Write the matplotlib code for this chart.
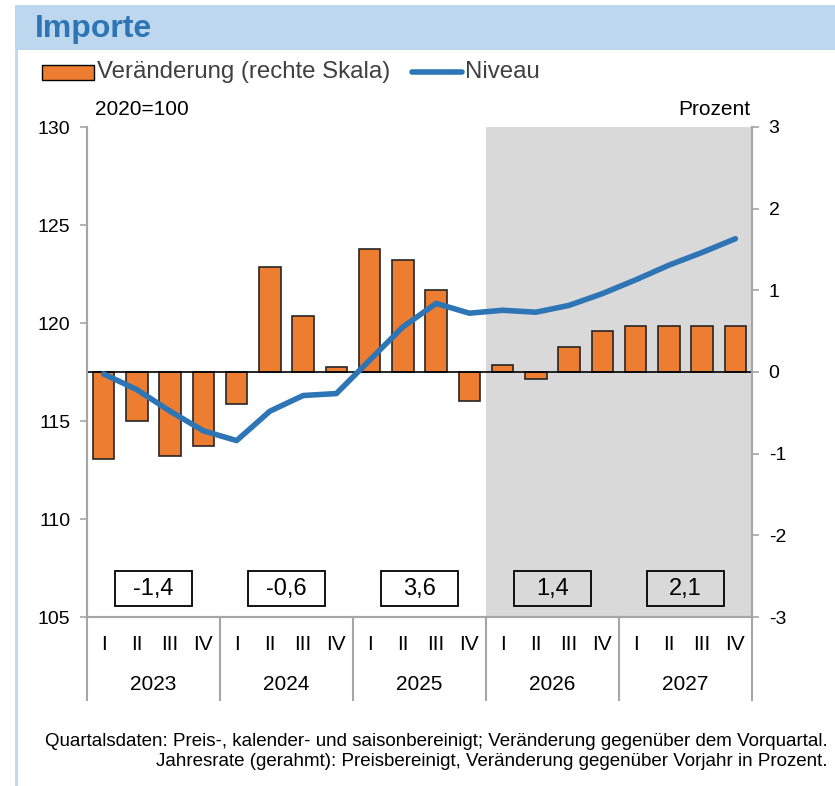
import matplotlib
matplotlib.use("Agg")
import matplotlib.pyplot as plt
from matplotlib.patches import Rectangle
from matplotlib.lines import Line2D
import numpy as np

plt.rcParams['font.family'] = ['Liberation Sans', 'DejaVu Sans']

# Data
years = ['2023', '2024', '2025', '2026', '2027']
quarters = ['I', 'II', 'III', 'IV']
change = [-1.07, -0.60, -1.03, -0.91,
          -0.39, 1.28, 0.68, 0.06,
          1.51, 1.37, 1.00, -0.36,
          0.08, -0.08, 0.30, 0.50,
          0.56, 0.56, 0.56, 0.56]
level = [117.4, 116.6, 115.5, 114.5,
         114.0, 115.5, 116.3, 116.4,
         118.1, 119.8, 121.0, 120.5,
         120.65, 120.55, 120.9, 121.5,
         122.2, 122.95, 123.6, 124.3]
annual = ['-1,4', '-0,6', '3,6', '1,4', '2,1']
forecast_start = 12  # first forecast quarter (2026 I)

W, H = 835, 786
fig = plt.figure(figsize=(W / 100, H / 100), dpi=100)

def fx(px):
    return px / W

def fy(py):
    return 1 - py / H

# title bar and panel border
blue_bg = '#BDD7EE'
fig.patches.append(Rectangle((fx(15), fy(50)), fx(820), 45 / H, transform=fig.transFigure,
                             facecolor=blue_bg, edgecolor='none'))
fig.lines.append(Line2D([fx(16), fx(16)], [fy(50), 0], transform=fig.transFigure,
                        color=blue_bg, lw=2))
fig.text(fx(35), fy(29), 'Importe', fontsize=23, fontweight='bold', color='#2E75B6',
         va='center', ha='left')

# axes
ax = fig.add_axes([fx(87), fy(617), fx(665), 490 / H])
ax2 = ax.twinx()
ax.set_zorder(ax2.get_zorder() + 1)
ax.patch.set_visible(False)

x = np.arange(len(change))
n = len(change)

ax2.axvspan(forecast_start - 0.5, n - 0.5, color='#D9D9D9', lw=0, zorder=0)
ax2.bar(x, change, width=0.65, color='#ED7D31', edgecolor='#262626', lw=1.2, zorder=2)
ax2.axhline(0, color='black', lw=1.2, zorder=3)
ax.plot(x, level, color='#2E75B6', lw=4, solid_capstyle='round', zorder=5)

ax.set_xlim(-0.5, n - 0.5)
ax.set_ylim(105, 130)
ax.set_yticks([105, 110, 115, 120, 125, 130])
ax2.set_ylim(-3, 3)
ax2.set_yticks([-3, -2, -1, 0, 1, 2, 3])
ax2.set_yticklabels(['-3', '-2', '-1', '0', '1', '2', '3'])
ax.set_xticks([])

spine_c = '#A6A6A6'
for a in (ax, ax2):
    a.spines['top'].set_visible(False)
    for s in ('left', 'right', 'bottom'):
        a.spines[s].set_color(spine_c)
        a.spines[s].set_linewidth(1.5)
    a.tick_params(axis='y', direction='out', length=5, width=1.2, color=spine_c,
                  labelsize=14, labelcolor='black', pad=7)

# annual rate boxes
for i, (yr, val) in enumerate(zip(years, annual)):
    c = i * 4 + 1.5
    ax.add_patch(Rectangle((c - 1.15, 0.023), 2.3, 0.071, transform=ax.get_xaxis_transform(),
                           facecolor='white' if i * 4 < forecast_start else 'none',
                           edgecolor='black', lw=1.3, zorder=6))
    ax.text(c, 0.058, val, transform=ax.get_xaxis_transform(), ha='center', va='center',
            fontsize=17, zorder=7)
    # year label
    ax.text(c, -0.137, yr, transform=ax.get_xaxis_transform(), ha='center', va='center',
            fontsize=15)
    for j, q in enumerate(quarters):
        ax.text(i * 4 + j, -0.057, q, transform=ax.get_xaxis_transform(), ha='center',
                va='center', fontsize=15)

for b in np.arange(-0.5, n, 4):
    ax.plot([b, b], [0, -0.17], transform=ax.get_xaxis_transform(), color=spine_c,
            lw=1.5, clip_on=False)

ax.text(0.012, 1.035, '2020=100', transform=ax.transAxes, fontsize=15, va='center')
ax.text(0.997, 1.035, 'Prozent', transform=ax.transAxes, fontsize=15, va='center', ha='right')

# legend
fig.patches.append(Rectangle((fx(42), fy(80)), fx(52), 15 / H, transform=fig.transFigure,
                             facecolor='#ED7D31', edgecolor='black', lw=1))
fig.text(fx(97), fy(72), 'Veränderung (rechte Skala)', fontsize=17.3, color='#404040', va='center')
fig.lines.append(Line2D([fx(412), fx(462)], [fy(72), fy(72)], transform=fig.transFigure,
                        color='#2E75B6', lw=4, solid_capstyle='round'))
fig.text(fx(465), fy(72), 'Niveau', fontsize=17.3, color='#404040', va='center')

# footnote
fig.text(fx(828), fy(742), 'Quartalsdaten: Preis-, kalender- und saisonbereinigt; '
         'Veränderung gegenüber dem Vorquartal.', fontsize=13.5, ha='right', va='center')
fig.text(fx(828), fy(762), 'Jahresrate (gerahmt): Preisbereinigt, Veränderung gegenüber '
         'Vorjahr in Prozent.', fontsize=13.5, ha='right', va='center')

fig.savefig('out.png', dpi=100)
